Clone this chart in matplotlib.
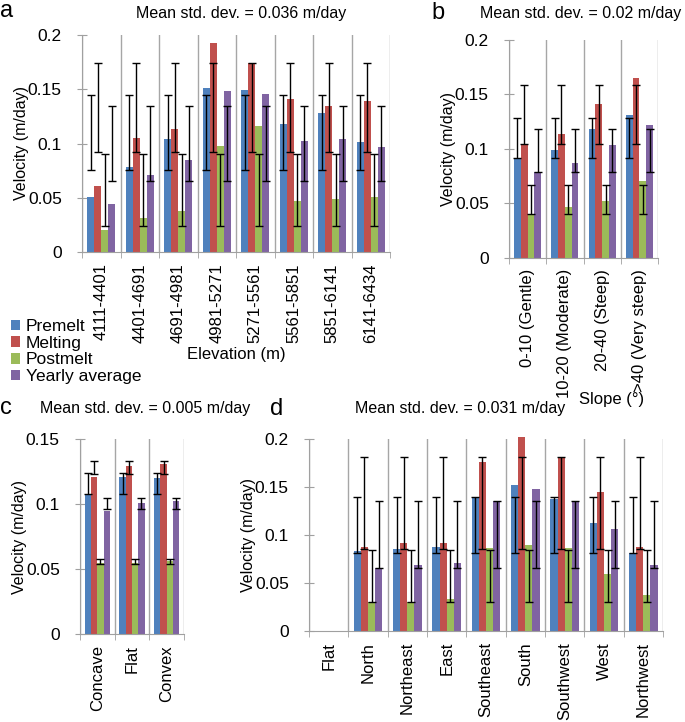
import numpy as np
import matplotlib
matplotlib.use('Agg')
import matplotlib.pyplot as plt

plt.rcParams['font.family'] = ['Liberation Sans', 'DejaVu Sans']
plt.rcParams['font.size'] = 12

#Data
series = ['Premelt', 'Melting', 'Postmelt', 'Yearly average']
colors = ['#4F81BD', '#C0504D', '#9BBB59', '#8064A2']

# a - elevation
elev_labels = ['4111-4401', '4401-4691', '4691-4981', '4981-5271',
               '5271-5561', '5561-5851', '5851-6141', '6141-6434']
elev_premelt = [0.051, 0.078, 0.104, 0.151, 0.149, 0.118, 0.128, 0.101]
elev_melting = [0.061, 0.105, 0.113, 0.193, 0.174, 0.141, 0.135, 0.139]
elev_postmelt = [0.020, 0.031, 0.038, 0.098, 0.116, 0.047, 0.049, 0.051]
elev_yearly = [0.044, 0.071, 0.085, 0.148, 0.146, 0.102, 0.104, 0.097]
elev_err_low = [0.076, 0.092, 0.024, 0.065]
elev_err_high = [0.145, 0.174, 0.090, 0.135]

# b - slope
slope_labels = ['0-10 (Gentle)', '10-20 (Moderate)', '20-40 (Steep)', '>40 (Very steep)']
slope_premelt = [0.092, 0.099, 0.118, 0.131]
slope_melting = [0.105, 0.114, 0.141, 0.165]
slope_postmelt = [0.039, 0.047, 0.052, 0.071]
slope_yearly = [0.079, 0.087, 0.104, 0.122]
slope_err_low = [0.092, 0.105, 0.040, 0.079]
slope_err_high = [0.128, 0.159, 0.067, 0.118]

# c - curvature
curv_labels = ['Concave', 'Flat', 'Convex']
curv_premelt = [0.107, 0.121, 0.120]
curv_melting = [0.121, 0.129, 0.131]
curv_postmelt = [0.055, 0.055, 0.056]
curv_yearly = [0.095, 0.101, 0.102]
curv_err_low = [0.108, 0.123, 0.054, 0.096]
curv_err_high = [0.124, 0.133, 0.058, 0.105]

# d - aspect
asp_labels = ['Flat', 'North', 'Northeast', 'East', 'Southeast',
              'South', 'Southwest', 'West', 'Northwest']
asp_premelt = [np.nan, 0.083, 0.085, 0.087, 0.140, 0.152, 0.137, 0.113, 0.081]
asp_melting = [np.nan, 0.087, 0.092, 0.092, 0.176, 0.202, 0.180, 0.145, 0.088]
asp_postmelt = [np.nan, 0.030, 0.030, 0.033, 0.086, 0.090, 0.086, 0.059, 0.038]
asp_yearly = [np.nan, 0.066, 0.069, 0.071, 0.135, 0.148, 0.135, 0.106, 0.069]
asp_err_low = [0.081, 0.085, 0.030, 0.066]
asp_err_high = [0.140, 0.181, 0.084, 0.135]

W, H = 685, 722
fig = plt.figure(figsize=(W / 100, H / 100), dpi=100)


def px_axes(x0, y0, x1, y1):
    # axes box given in pixels (top-left origin)
    return fig.add_axes([x0 / W, 1 - y1 / H, (x1 - x0) / W, (y1 - y0) / H])


def panel(ax, labels, vals, lo, hi, ymax, step):
    n = len(labels)
    w = 1 / 5.5
    x = np.arange(n) + 0.5
    bars = []
    for k, v in enumerate(vals):
        v = np.array(v, dtype=float)
        xs = x + (k - 1.5) * w
        b = ax.bar(xs, v, width=w, color=colors[k], edgecolor='none',
                   label=series[k], zorder=2, clip_on=False)
        bars.append(b)
    for k, v in enumerate(vals):
        v = np.array(v, dtype=float)
        xs = (x + (k - 1.5) * w)[~np.isnan(v)]
        mid = (lo[k] + hi[k]) / 2
        ax.errorbar(xs, np.full(len(xs), mid), yerr=(hi[k] - lo[k]) / 2,
                    fmt='none', ecolor='black', elinewidth=1, capsize=3,
                    capthick=1, zorder=4, clip_on=False)
    ax.set_xlim(0, n)
    ax.set_ylim(0, ymax)
    ticks = np.arange(0, ymax + 1e-9, step)
    ax.set_yticks(ticks)
    ax.set_yticklabels(['{:g}'.format(round(t, 3)) for t in ticks], fontsize=12.5)
    ax.set_xticks(x)
    ax.set_xticklabels(labels, rotation=90, fontsize=12)
    ax.set_xticks(np.arange(n + 1), minor=True)
    ax.tick_params(axis='x', which='major', length=0, pad=8)
    ax.tick_params(axis='x', which='minor', length=4, color='#a0a0a0')
    ax.tick_params(axis='y', length=7, direction='inout', color='#a0a0a0', pad=11)
    ax.xaxis.grid(True, which='minor', color='#a6a6a6', lw=1, zorder=0)
    for s in ['top', 'right']:
        ax.spines[s].set_visible(False)
    for s in ['left', 'bottom']:
        ax.spines[s].set_color('#a0a0a0')
    ax.set_ylabel('Velocity (m/day)', fontsize=11.5, labelpad=-1)
    return bars


ax_a = px_axes(82, 35, 390, 252)
bars = panel(ax_a, elev_labels, [elev_premelt, elev_melting, elev_postmelt, elev_yearly],
             elev_err_low, elev_err_high, 0.2, 0.05)
ax_a.set_xlabel('Elevation (m)', labelpad=3)

ax_b = px_axes(509, 40, 658, 258)
panel(ax_b, slope_labels, [slope_premelt, slope_melting, slope_postmelt, slope_yearly],
      slope_err_low, slope_err_high, 0.2, 0.05)
ax_b.set_xlabel('Slope (°)')
ax_b.xaxis.set_label_coords(0.69, -0.615)

ax_c = px_axes(80, 439, 184, 634)
panel(ax_c, curv_labels, [curv_premelt, curv_melting, curv_postmelt, curv_yearly],
      curv_err_low, curv_err_high, 0.15, 0.05)

ax_d = px_axes(309, 439, 663, 631)
panel(ax_d, asp_labels, [asp_premelt, asp_melting, asp_postmelt, asp_yearly],
      asp_err_low, asp_err_high, 0.2, 0.05)

#Legend
fig.legend(handles=bars, loc='upper left', bbox_to_anchor=(4 / W, 1 - 312 / H),
           frameon=False, handlelength=0.55, handleheight=0.55, handletextpad=0.3,
           labelspacing=0.1, borderaxespad=0, fontsize=12.5)

#Panel letters and titles
def ptext(x, y, s, size, ha='left'):
    fig.text(x / W, 1 - y / H, s, fontsize=size, ha=ha, va='baseline')

ptext(0, 17, 'a', 17)
ptext(241, 18, 'Mean std. dev. = 0.036 m/day', 11.5, 'center')
ptext(431, 19, 'b', 17)
ptext(581, 18, 'Mean std. dev. = 0.02 m/day', 11.5, 'center')
ptext(0, 414, 'c', 17)
ptext(145, 413, 'Mean std. dev. = 0.005 m/day', 11.5, 'center')
ptext(270, 415, 'd', 17)
ptext(460, 413, 'Mean std. dev. = 0.031 m/day', 11.5, 'center')

fig.savefig('out.png', dpi=100)
